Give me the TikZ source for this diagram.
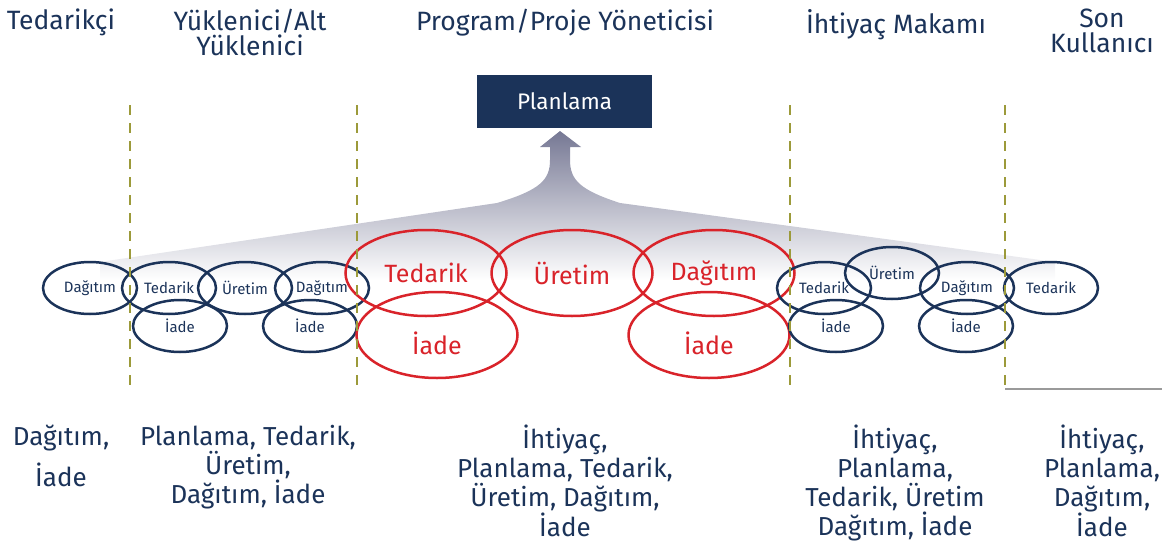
\documentclass[tikz,border=0pt]{standalone}
\usepackage{fontspec}
\setmainfont{Fira Sans}
\usetikzlibrary{shapes.geometric}
\definecolor{navy}{HTML}{1B3359}
\definecolor{redline}{HTML}{D9232A}
\definecolor{olive}{HTML}{9C9A3A}
\definecolor{funneltop}{RGB}{118,120,148}
\definecolor{baseline}{HTML}{9A9A9A}
\begin{document}
\begin{tikzpicture}[x=1pt,y=-1pt,
  blueell/.style={ellipse, draw=navy, line width=2.5pt, inner sep=0pt,
    minimum width=94pt, minimum height=52pt, text=navy,
    font=\fontsize{15}{17}\selectfont},
  redell/.style={ellipse, draw=redline, line width=2.5pt, inner sep=0pt,
    minimum width=161pt, minimum height=86pt, text=redline,
    font=\fontsize{25}{28}\selectfont},
  redlabel/.style={text=redline, inner sep=0pt, yshift=-8pt,
    font=\fontsize{25}{28}\selectfont},
  heading/.style={text=navy, align=center, inner sep=0pt, anchor=north,
    font=\fontsize{26.5}{25}\selectfont},
  roles/.style={text=navy, align=center, inner sep=0pt, anchor=north,
    font=\fontsize{26}{29}\selectfont},
  divider/.style={draw=olive, line width=2pt, dash pattern=on 10pt off 8pt},
  planbox/.style={fill=navy, text=white, minimum width=175pt, minimum height=53pt,
    inner sep=0pt, font=\fontsize{22.5}{24}\selectfont}
]
\useasboundingbox (0,0) rectangle (1164,543);

% funnel collecting the processes into planning
\shade[top color=funneltop, bottom color=white]
  (100,262) -- (497,203) .. controls (540,190) and (550,180) .. (550,160)
  -- (550,147) -- (540,147) -- (560,131) -- (581,147) -- (570,147) -- (570,160)
  .. controls (570,180) and (580,190) .. (620,203) -- (1055,262)
  -- (1055,280) -- (100,280) -- cycle;

\node[planbox] (plan) at (564.5,101.5) {Planlama};

% headings
\node[heading] (h1) at (61,9) {Tedarikçi};
\node[heading] (h2) at (250,9) {Yüklenici/Alt\\Yüklenici};
\node[heading] (h3) at (565,9) {Program/Proje Yöneticisi};
\node[heading] (h4) at (896,9) {İhtiyaç Makamı};
\node[heading] (h5) at (1102,9) {Son\\Kullanıcı};

% supplier
\node[blueell] (s1) at (90,288) {Dağıtım};
% contractor
\node[blueell] (c1) at (169,288) {Tedarik};
\node[blueell] (c2) at (245,288) {Üretim};
\node[blueell] (c3) at (322,288) {Dağıtım};
\node[blueell] (c4) at (180,326) {İade};
\node[blueell] (c5) at (310,326) {İade};
% program manager
\node[redell] (p1) at (426,273) {Tedarik};
\node[redell] (p2) at (572,273) {Üretim};
\node[redell] (p3) at (714,273) {Dağıtım};
\node[redell, label={[redlabel]center:İade}] (p4) at (437,335) {};
\node[redell, label={[redlabel]center:İade}] (p5) at (709,335) {};
% requiring authority
\node[blueell] (r1) at (824,288) {Tedarik};
\node[blueell] (r2) at (892,273) {Üretim};
\node[blueell] (r3) at (967,288) {Dağıtım};
\node[blueell] (r4) at (836,326) {İade};
\node[blueell] (r5) at (966,326) {İade};
% end user
\node[blueell] (u1) at (1051,288) {Tedarik};

% column dividers
\draw[divider] (130,105) -- (130,388);
\draw[divider] (357,105) -- (357,388);
\draw[divider] (790,105) -- (790,388);
\draw[divider] (1005,105) -- (1005,388);
\draw[draw=baseline, line width=2.5pt] (1005,389) -- (1162,389);

% responsibilities
\node[roles, font=\fontsize{26}{41}\selectfont] (b1) at (61,425) {Dağıtım,\\İade};
\node[roles] (b2) at (248,425) {Planlama, Tedarik,\\Üretim,\\Dağıtım, İade};
\node[roles] (b3) at (565,425) {İhtiyaç,\\Planlama, Tedarik,\\Üretim, Dağıtım,\\İade};
\node[roles] (b4) at (895,425) {İhtiyaç,\\Planlama,\\Tedarik, Üretim\\Dağıtım, İade};
\node[roles] (b5) at (1102,425) {İhtiyaç,\\Planlama,\\Dağıtım,\\İade};
\end{tikzpicture}
\end{document}
